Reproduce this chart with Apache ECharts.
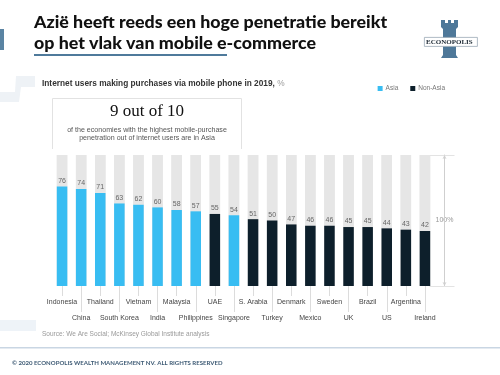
<!DOCTYPE html>
<html>
<head>
<meta charset="utf-8">
<script src="https://cdn.jsdelivr.net/npm/echarts@6/dist/echarts.min.js"></script>
<style>
  html, body { margin: 0; padding: 0; background: #fff; }
  #chart { width: 500px; height: 375px; }
</style>
</head>
<body>
<div id="chart"></div>
<script>
// ---- Data ----
const countries = ['Indonesia', 'China', 'Thailand', 'South Korea', 'Vietnam', 'India', 'Malaysia', 'Philippines', 'UAE', 'Singapore', 'S. Arabia', 'Turkey', 'Denmark', 'Mexico', 'Sweden', 'UK', 'Brazil', 'US', 'Argentina', 'Ireland'];
const values = [76, 74, 71, 63, 62, 60, 58, 57, 55, 54, 51, 50, 47, 46, 46, 45, 45, 44, 43, 42];
const regions = ['Asia', 'Asia', 'Asia', 'Asia', 'Asia', 'Asia', 'Asia', 'Asia', 'Non-Asia', 'Asia', 'Non-Asia', 'Non-Asia', 'Non-Asia', 'Non-Asia', 'Non-Asia', 'Non-Asia', 'Non-Asia', 'Non-Asia', 'Non-Asia', 'Non-Asia'];
const seriesNames = ['Asia', 'Non-Asia'];
const fullScaleLabel = '100%';

const titleText = 'Azië heeft reeds een hoge penetratie bereikt\nop het vlak van mobile e-commerce';
const subtitleText = 'Internet users making purchases via mobile phone in 2019,';
const calloutBig = '9 out of 10';
const calloutSmall = 'of the economies with the highest mobile-purchase\npenetration out of internet users are in Asia';
const sourceText = 'Source: We Are Social; McKinsey Global Institute analysis';
const footerText = '\u00A9 2020 ECONOPOLIS WEALTH MANAGEMENT NV. ALL RIGHTS RESERVED';

// ---- Build ----
const asiaData = values.map((v, i) => regions[i] === 'Asia' ? v : '-');
const nonAsiaData = values.map((v, i) => regions[i] === 'Non-Asia' ? v : '-');
const colors = { 'Asia': '#38bdf2', 'Non-Asia': '#0d1f2b' };

const chart = echarts.init(document.getElementById('chart'), null, { renderer: 'canvas' });

const sans = 'Liberation Sans, Arial, sans-serif';

const option = {
  backgroundColor: '#ffffff',
  animation: false,
  textStyle: { fontFamily: sans },
  title: [
    {
      text: titleText, left: 34, top: 12, padding: 0,
      textStyle: { fontFamily: 'Lato', fontWeight: 900, fontSize: 17.8, color: '#111', lineHeight: 21 }
    },
    {
      text: subtitleText + ' {p|%}', left: 42, top: 80, padding: 0,
      textStyle: { fontFamily: sans, fontWeight: 'bold', fontSize: 8.3, color: '#333',
        rich: { p: { fontFamily: sans, fontSize: 8.3, color: '#999', fontWeight: 'normal' } } }
    },
    {
      text: calloutBig, left: 147, top: 103, textAlign: 'center', padding: 0,
      textStyle: { fontFamily: 'Liberation Serif, DejaVu Serif, serif', fontWeight: 'normal', fontSize: 17, color: '#111' }
    },
    {
      text: calloutSmall, left: 147, top: 125.5, textAlign: 'center', padding: 0,
      textStyle: { fontFamily: sans, fontWeight: 'normal', fontSize: 7.1, color: '#555', lineHeight: 8.5 }
    },
    {
      text: sourceText, left: 42, top: 331, padding: 0,
      textStyle: { fontFamily: sans, fontWeight: 'normal', fontSize: 6.5, color: '#999' }
    },
    {
      text: footerText, left: 12, top: 360, padding: 0,
      textStyle: { fontFamily: 'Lato', fontWeight: 'bold', fontSize: 6.05, color: '#3d5a74' }
    }
  ],
  legend: {
    data: seriesNames, right: 50, top: 80, icon: 'rect', itemWidth: 5, itemHeight: 5, itemGap: 12,
    textStyle: { fontSize: 6.5, color: '#777', fontFamily: sans, padding: [0, 0, 0, -2] }
  },
  grid: { left: 52.5, right: 65.5, top: 155, bottom: 89, containLabel: false },
  xAxis: [
    {
      type: 'category', data: countries,
      axisLine: { show: false },
      axisTick: { show: true, alignWithLabel: true, length: 10, interval: (i) => i % 2 === 0, lineStyle: { color: '#dcdcdc' } },
      axisLabel: {
        interval: 0, margin: 8, fontSize: 7, color: '#444', lineHeight: 16, fontFamily: sans,
        formatter: (v, i) => (i % 2 === 1 ? '\n' + v : v)
      }
    },
    {
      type: 'category', data: countries, position: 'bottom',
      axisLine: { show: false },
      axisTick: { show: true, alignWithLabel: true, length: 26, interval: (i) => i % 2 === 1, lineStyle: { color: '#dcdcdc' } },
      axisLabel: { show: false }
    }
  ],
  yAxis: [
    { type: 'value', min: 0, max: 100, show: false },
    {
      type: 'value', min: 0, max: 100, interval: 100, position: 'right', offset: 10,
      axisLine: { show: true, symbol: ['arrow', 'arrow'], symbolSize: [3, 4], lineStyle: { color: '#cfcfcf', width: 1 } },
      axisTick: { show: true, length: 10, lineStyle: { color: '#e3e3e3' } },
      axisLabel: { show: false }, splitLine: { show: false },
      name: fullScaleLabel, nameLocation: 'middle', nameGap: 0, nameRotate: 0,
      nameTextStyle: { fontSize: 7, color: '#999', align: 'center', verticalAlign: 'middle', backgroundColor: '#fff', padding: [3, 0] }
    },
    {
      type: 'value', min: 0, max: 100, interval: 100, position: 'right', offset: 10,
      axisLine: { show: false },
      axisTick: { show: true, inside: true, length: 15, lineStyle: { color: '#e3e3e3' } },
      axisLabel: { show: false }, splitLine: { show: false }
    }
  ],
  series: [
    {
      name: 'Asia', type: 'bar', data: asiaData, barWidth: '55%', barGap: '-100%',
      itemStyle: { color: colors['Asia'] },
      showBackground: true, backgroundStyle: { color: '#e6e6e6' },
      label: { show: true, position: 'top', distance: 2, fontSize: 7, color: '#666', fontFamily: sans },
      z: 2
    },
    {
      name: 'Non-Asia', type: 'bar', data: nonAsiaData, barWidth: '55%', barGap: '-100%',
      itemStyle: { color: colors['Non-Asia'] },
      showBackground: true, backgroundStyle: { color: '#e6e6e6' },
      label: { show: true, position: 'top', distance: 2, fontSize: 7, color: '#666', fontFamily: sans },
      z: 2
    }
  ],
  graphic: [
    { type: 'rect', left: 0, top: 29, shape: { width: 4, height: 21 }, style: { fill: '#5a84a3' }, silent: true },
    { type: 'rect', left: 34, top: 54, shape: { width: 193, height: 2 }, style: { fill: '#4f7a9b' }, silent: true },
    { type: 'polygon', shape: { points: [[16, 76], [35, 76], [35, 87], [21, 87], [19, 102], [0, 102], [0, 92], [15, 92]] }, style: { fill: '#eef2f6' }, silent: true, z: -1 },
    { type: 'rect', left: 0, top: 320, shape: { width: 36, height: 11 }, style: { fill: '#eef3f8' }, silent: true, z: -1 },
    { type: 'rect', left: 0, top: 347, shape: { width: 500, height: 1.5 }, style: { fill: '#c9d6e3' }, silent: true },
    { type: 'polyline', shape: { points: [[52.5, 149], [52.5, 98.5], [241.5, 98.5], [241.5, 149]] }, style: { stroke: '#e2e2e2', lineWidth: 1, fill: null }, silent: true },
    { type: 'polygon', shape: { points: [[441, 20], [445, 20], [445, 23], [448, 23], [448, 20], [451, 20], [451, 23], [454, 23], [454, 20], [458, 20], [458, 27], [456, 29], [456, 55], [458, 58], [441, 58], [443, 55], [443, 29], [441, 27]] }, style: { fill: '#4e7899' }, silent: true },
    { type: 'rect', left: 424, top: 37, shape: { width: 53, height: 9 }, style: { fill: '#ffffff', stroke: '#9aa9b6', lineWidth: 0.8 }, silent: true },
    { type: 'text', left: 426, top: 38.5, style: { text: 'ECONOPOLIS', font: 'bold 7px "Liberation Serif", serif', fill: '#1c2833' }, silent: true }
  ]
};

chart.setOption(option);
</script>
</body>
</html>
